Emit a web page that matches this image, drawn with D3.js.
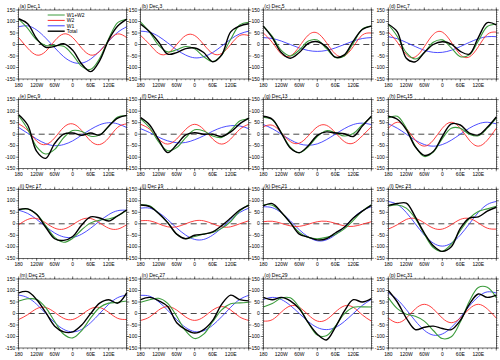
<!DOCTYPE html>
<html>
<head>
<meta charset="UTF-8">
<title>Zonal wave decomposition</title>
<script src="https://cdn.jsdelivr.net/npm/d3@7"></script>
<style>
  body { margin: 0; background: #fff; }
  svg text { font-family: "Liberation Sans", Arial, sans-serif; fill: #000; }
</style>
</head>
<body>
<svg id="chart"></svg>
<script>
// longitudes sampled every 30 deg
const lons = [-180, -150, -120, -90, -60, -30, 0, 30, 60, 90, 120, 150, 180];
const lonTicks = [-180, -120, -60, 0, 60, 120];
const lonLabels = ["180", "120W", "60W", "0", "60E", "120E"];
const valTicks = [-150, -100, -50, 0, 50, 100, 150];

const titles = ["(a) Dec 1", "(b) Dec 3", "(c) Dec 5", "(d) Dec 7",
  "(e) Dec 9", "(f) Dec 11", "(g) Dec 13", "(h) Dec 15",
  "(i) Dec 17", "(j) Dec 19", "(k) Dec 21", "(l) Dec 23",
  "(m) Dec 25", "(n) Dec 27", "(o) Dec 29", "(p) Dec 31"];

// W1 (blue)
const w1 = [
  [77, 81, 63, 28, -14, -53, -77, -81, -63, -28, 14, 53, 77],
  [58, 53, 35, 7, -23, -46, -58, -53, -35, -7, 23, 46, 58],
  [30, 26, 15, 0, -15, -26, -30, -26, -15, 0, 15, 26, 30],
  [34, 25, 9, -9, -25, -34, -34, -25, -9, 9, 25, 34, 34],
  [29, 4, -21, -41, -50, -45, -29, -4, 21, 41, 50, 45, 29],
  [24, 7, -13, -29, -37, -36, -24, -7, 13, 29, 37, 36, 24],
  [42, 24, 0, -24, -42, -48, -42, -24, 0, 24, 42, 48, 42],
  [45, 26, 0, -26, -45, -52, -45, -26, 0, 26, 45, 52, 45],
  [59, 45, 19, -12, -40, -57, -59, -45, -19, 12, 40, 57, 59],
  [68, 68, 49, 18, -18, -49, -68, -68, -49, -18, 18, 49, 68],
  [74, 70, 48, 13, -26, -57, -74, -70, -48, -13, 26, 57, 74],
  [97, 84, 49, 0, -49, -84, -97, -84, -49, 0, 49, 84, 97],
  [80, 69, 40, 0, -40, -69, -80, -69, -40, 0, 40, 69, 80],
  [79, 75, 51, 14, -27, -61, -79, -75, -51, -14, 27, 61, 79],
  [61, 70, 61, 35, 0, -35, -61, -70, -61, -35, 0, 35, 61],
  [89, 61, 17, -32, -73, -94, -89, -61, -17, 32, 73, 94, 89]
];

// W2 (red)
const w2 = [
  [30, -16, -46, -30, 16, 46, 30, -16, -46, -30, 16, 46, 30],
  [39, 0, -39, -39, 0, 39, 39, 0, -39, -39, 0, 39, 39],
  [50, 9, -41, -50, -9, 41, 50, 9, -41, -50, -9, 41, 50],
  [54, 10, -44, -54, -10, 44, 54, 10, -44, -54, -10, 44, 54],
  [45, 16, -30, -45, -16, 30, 45, 16, -30, -45, -16, 30, 45],
  [43, 21, -21, -43, -21, 21, 43, 21, -21, -43, -21, 21, 43],
  [32, 39, 7, -32, -39, -7, 32, 39, 7, -32, -39, -7, 32],
  [26, 52, 26, -26, -52, -26, 26, 52, 26, -26, -52, -26, 26],
  [-4, 19, 23, 4, -19, -23, -4, 19, 23, 4, -19, -23, -4],
  [13, 13, 0, -13, -13, 0, 13, 13, 0, -13, -13, 0, 13],
  [9, 11, 2, -9, -11, -2, 9, 11, 2, -9, -11, -2, 9],
  [-23, -4, 19, 23, 4, -19, -23, -4, 19, 23, 4, -19, -23],
  [-26, -5, 21, 26, 5, -21, -26, -5, 21, 26, 5, -21, -26],
  [-30, -15, 15, 30, 15, -15, -30, -15, 15, 30, 15, -15, -30],
  [-33, -27, 6, 33, 27, -6, -33, -27, 6, 33, 27, -6, -33],
  [-20, -40, -20, 20, 40, 20, -20, -40, -20, 20, 40, 20, -20]
];

// W1+W2 (green)
const w12 = [
  [110, 70, 20, -4, -4, -8, -45, -95, -108, -60, 25, 95, 110],
  [97, 53, -4, -32, -23, -9, -19, -53, -74, -46, 23, 85, 97],
  [80, 35, -26, -50, -24, 15, 20, -17, -56, -50, 6, 67, 80],
  [88, 35, -35, -63, -35, 10, 20, -15, -53, -45, 15, 78, 88],
  [80, 22, -55, -86, -66, -15, 16, 12, -9, -4, 34, 75, 80],
  [67, 28, -34, -72, -58, -15, 19, 14, -8, -14, 16, 57, 67],
  [74, 63, 7, -56, -81, -55, -10, 15, 7, -8, 3, 41, 74],
  [71, 78, 26, -52, -97, -78, -19, 26, 26, 0, -7, 26, 71],
  [60, 64, 42, -8, -59, -80, -63, -26, 4, 16, 21, 34, 60],
  [83, 78, 45, 5, -45, -65, -55, -45, -38, -20, 10, 55, 83],
  [83, 81, 50, 4, -37, -59, -65, -59, -46, -22, 15, 55, 83],
  [76, 82, 68, 23, -45, -103, -120, -88, -30, 23, 53, 65, 76],
  [54, 64, 61, 26, -35, -90, -106, -74, -19, 26, 45, 48, 54],
  [49, 60, 66, 44, -12, -76, -109, -90, -36, 16, 42, 46, 49],
  [28, 43, 67, 68, 27, -41, -94, -97, -55, -2, 27, 29, 28],
  [69, 21, -3, -12, -33, -74, -109, -101, -37, 52, 113, 114, 69]
];

// Total (black)
const total = [
  [112, 90, 25, -12, -8, 3, -25, -85, -118, -70, 20, 80, 110],
  [88, 55, 10, -42, -35, -18, -15, -35, -75, -45, 55, 80, 90],
  [80, 30, -35, -60, -35, 5, 12, -10, -55, -45, 15, 65, 80],
  [88, 55, -60, -75, -35, 0, 12, 2, -30, -42, 30, 95, 85],
  [85, 40, -75, -105, -40, 0, 5, -5, 5, -3, 35, 70, 82],
  [72, 40, -25, -80, -45, -3, 6, 0, 0, -10, 10, 45, 70],
  [78, 65, 5, -60, -80, -50, -5, 10, 5, 2, -10, 35, 78],
  [78, 65, 20, -55, -92, -75, -10, 45, 40, 5, -3, 30, 75],
  [62, 65, 40, -15, -65, -72, -55, -5, 30, 25, 12, 35, 60],
  [82, 75, 45, 5, -45, -65, -50, -45, -35, -8, 25, 60, 80],
  [78, 88, 50, 5, -45, -58, -70, -65, -40, -15, 25, 55, 80],
  [80, 88, 90, 30, -40, -95, -120, -100, -20, 25, 30, 55, 72],
  [90, 95, 60, 5, -55, -80, -80, -50, 0, 45, 60, 45, 90],
  [60, 70, 55, 30, -40, -70, -85, -70, -30, 40, 80, 60, 55],
  [70, 60, 70, 55, 20, -40, -90, -115, -60, 10, 60, 50, 65],
  [100, 50, -20, -70, -60, -55, -65, -70, -30, 40, 85, 70, 80]
];

const legendNames = ["W1+W2", "W2", "W1", "Total"];
const colors = {w12: "#3c9c3c", w2: "#ff2a2a", w1: "#3a3aff", total: "#000000"};

const W = 500, H = 360;
const colX = [18.7, 140.7, 263.3, 388.3];
const rowY = [10, 99.7, 189.3, 279];
const pw = 108, ph = 69;

const svg = d3.select("#chart").attr("width", W).attr("height", H);

const x = d3.scaleLinear().domain([-180, 180]).range([0, pw]);
const y = d3.scaleLinear().domain([-150, 150]).range([ph, 0]);

const smooth = d3.line()
  .x((d, i) => x(lons[i]))
  .y(d => y(d))
  .curve(d3.curveNatural);
const wiggly = d3.line()
  .x((d, i) => x(lons[i]))
  .y(d => y(d))
  .curve(d3.curveCatmullRom.alpha(0.5));

const minorX = d3.range(-180, 181, 15);
const minorY = d3.range(-150, 151, 10);

titles.forEach(function(t, k) {
  const g = svg.append("g")
    .attr("transform", "translate(" + colX[k % 4] + "," + rowY[Math.floor(k / 4)] + ")");

  // ticks, pointing out on all four sides
  [[0, -1], [ph, 1]].forEach(function(s) {
    g.selectAll(null).data(minorX).enter().append("line")
      .attr("x1", d => x(d)).attr("x2", d => x(d))
      .attr("y1", s[0]).attr("y2", s[0] + s[1] * 1.3)
      .attr("stroke", "#000").attr("stroke-width", 0.4);
    g.selectAll(null).data(lonTicks.concat([180])).enter().append("line")
      .attr("x1", d => x(d)).attr("x2", d => x(d))
      .attr("y1", s[0]).attr("y2", s[0] + s[1] * 2.6)
      .attr("stroke", "#000").attr("stroke-width", 0.5);
  });
  [[0, -1], [pw, 1]].forEach(function(s) {
    g.selectAll(null).data(minorY).enter().append("line")
      .attr("y1", d => y(d)).attr("y2", d => y(d))
      .attr("x1", s[0]).attr("x2", s[0] + s[1] * 1.3)
      .attr("stroke", "#000").attr("stroke-width", 0.4);
    g.selectAll(null).data(valTicks).enter().append("line")
      .attr("y1", d => y(d)).attr("y2", d => y(d))
      .attr("x1", s[0]).attr("x2", s[0] + s[1] * 2.6)
      .attr("stroke", "#000").attr("stroke-width", 0.5);
  });

  // tick labels
  g.selectAll(null).data(valTicks).enter().append("text")
    .attr("x", -3.5).attr("y", d => y(d) + 1.7)
    .attr("text-anchor", "end").attr("font-size", 5)
    .text(d => d);
  g.selectAll(null).data(lonTicks).enter().append("text")
    .attr("x", d => x(d)).attr("y", ph + 7.5)
    .attr("text-anchor", "middle").attr("font-size", 5)
    .text((d, i) => lonLabels[i]);

  // zero line
  g.append("line")
    .attr("x1", 0).attr("x2", pw).attr("y1", y(0)).attr("y2", y(0))
    .attr("stroke", "#333").attr("stroke-width", 0.9)
    .attr("stroke-dasharray", "6,4");

  g.append("path").attr("d", smooth(w1[k]))
    .attr("fill", "none").attr("stroke", colors.w1).attr("stroke-width", 0.9);
  g.append("path").attr("d", smooth(w2[k]))
    .attr("fill", "none").attr("stroke", colors.w2).attr("stroke-width", 0.9);
  g.append("path").attr("d", wiggly(w12[k]))
    .attr("fill", "none").attr("stroke", colors.w12).attr("stroke-width", 1.1);
  g.append("path").attr("d", wiggly(total[k]))
    .attr("fill", "none").attr("stroke", colors.total).attr("stroke-width", 1.4);

  g.append("rect")
    .attr("width", pw).attr("height", ph)
    .attr("fill", "none").attr("stroke", "#000").attr("stroke-width", 0.6);

  g.append("text")
    .attr("x", 1).attr("y", -1.8)
    .attr("font-size", 5)
    .text(t);

  if (k === 0) {
    const lc = [colors.w12, colors.w2, colors.w1, colors.total];
    const lg = g.append("g").attr("transform", "translate(29,5)");
    legendNames.forEach(function(n, i) {
      lg.append("line")
        .attr("x1", 0).attr("x2", 17).attr("y1", i * 5.4).attr("y2", i * 5.4)
        .attr("stroke", lc[i]).attr("stroke-width", i === 3 ? 1.4 : 1);
      lg.append("text")
        .attr("x", 19).attr("y", i * 5.4 + 1.7)
        .attr("font-size", 5)
        .text(n);
    });
  }
});
</script>
</body>
</html>
